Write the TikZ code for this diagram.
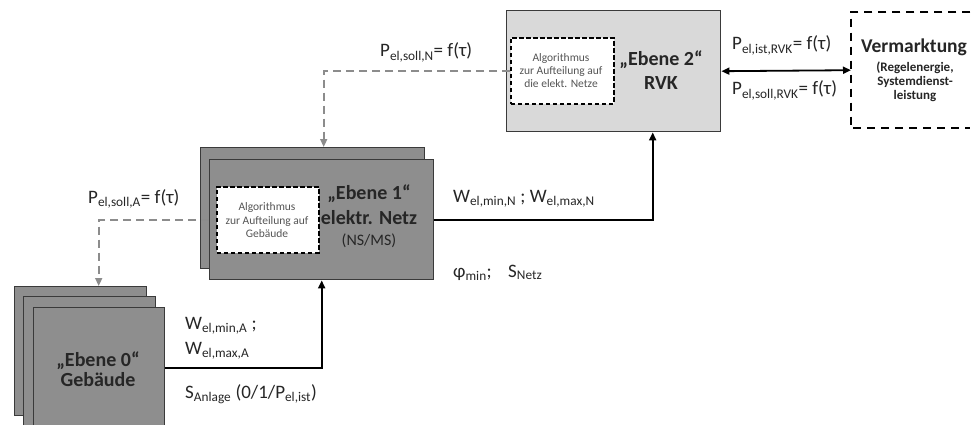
\documentclass[tikz,border=0pt]{standalone}
\usepackage{fontspec}
\setmainfont{Carlito}
\usetikzlibrary{arrows.meta}
\definecolor{boxgray}{HTML}{8E8E8E}
\definecolor{lightbox}{HTML}{D9D9D9}
\definecolor{edgegray}{HTML}{3A3A3A}
\definecolor{dashgray}{HTML}{8C8C8C}
\definecolor{txt}{HTML}{262626}
\definecolor{smalltxt}{HTML}{555555}
\newcommand\sbs[1]{\textsubscript{#1}}
\tikzset{
  levelbox/.style={draw=edgegray, line width=1.4pt, fill=boxgray, anchor=north west, inner sep=0pt},
  rvkbox/.style={draw=edgegray, line width=1.4pt, fill=lightbox, anchor=north west, inner sep=0pt},
  algbox/.style={draw=black, line width=1.8pt, fill=white, dash pattern=on 4.5pt off 2.5pt, anchor=north west, inner sep=0pt},
  vermbox/.style={anchor=north west, inner sep=0pt},
  vermline/.style={draw=black, line width=1.8pt, dash pattern=on 8pt off 6pt},
  lbl/.style={anchor=base west, inner sep=0pt, font=\fontsize{19}{22}\selectfont, text=txt},
  big/.style={anchor=base, inner sep=0pt, font=\fontsize{20}{24}\selectfont\bfseries, text=txt},
  small/.style={anchor=base, inner sep=0pt, font=\fontsize{11.5}{13}\selectfont, text=smalltxt},
  conn/.style={draw=black, line width=1.8pt, -{Triangle[length=8pt,width=7pt]}},
  biconn/.style={draw=black, line width=1.8pt, {Triangle[length=8pt,width=7pt]}-{Triangle[length=8pt,width=7pt]}},
  dconn/.style={draw=dashgray, line width=1.6pt, dash pattern=on 8pt off 5pt, -{Triangle[length=8pt,width=7pt]}}
}
\begin{document}
\begin{tikzpicture}[x=1pt,y=-1pt]
\useasboundingbox (0,0) rectangle (971,425);
\fill[white] (0,0) rectangle (971,425);

% Ebene 0 stack (bottom part cut off by the picture edge)
\begin{scope}
\clip (0,0) rectangle (971,425);
\node[levelbox, minimum width=132pt, minimum height=129pt] (e0a) at (14,286) {};
\node[levelbox, minimum width=132pt, minimum height=129pt] (e0b) at (23,296) {};
\node[levelbox, minimum width=131pt, minimum height=121pt] (e0c) at (33,307) {};
\end{scope}
\node[big] (e0t1) at (98,366) {„Ebene 0“};
\node[big] (e0t2) at (98,386) {Gebäude};

% Ebene 1 stack
\node[levelbox, minimum width=224pt, minimum height=121pt] (e1a) at (200,147) {};
\node[levelbox, minimum width=224pt, minimum height=120pt] (e1b) at (209,159) {};
\node[algbox, minimum width=102pt, minimum height=66pt] (alg1) at (216,186) {};
\node[small] (a1t1) at (267,210) {Algorithmus};
\node[small] (a1t2) at (267,224) {zur Aufteilung auf};
\node[small] (a1t3) at (267,237) {Gebäude};
\node[big] (e1t1) at (369,199) {„Ebene 1“};
\node[big] (e1t2) at (369,224) {elektr. Netz};
\node[anchor=base, inner sep=0pt, font=\fontsize{16}{19}\selectfont, text=txt] (e1t3) at (369,245) {(NS/MS)};

% Ebene 2
\node[rvkbox, minimum width=214pt, minimum height=121pt] (rvk) at (506,10) {};
\node[algbox, minimum width=103pt, minimum height=66pt] (alg2) at (510,37) {};
\node[small] (a2t1) at (561,62) {Algorithmus};
\node[small] (a2t2) at (561,75) {zur Aufteilung auf};
\node[small] (a2t3) at (561,88) {die elekt. Netze};
\node[big] (e2t1) at (661,66) {„Ebene 2“};
\node[big] (e2t2) at (661,90) {RVK};

% Vermarktung (right edge lies outside the picture)
\node[vermbox, minimum width=119pt, minimum height=116pt] (verm) at (851,12) {};
\draw[vermline] (verm.north east) -- (verm.north west) -- (verm.south west) -- (verm.south east);
\node[anchor=base, inner sep=0pt, font=\fontsize{19.5}{23}\selectfont\bfseries, text=txt] (vt1) at (914,53) {Vermarktung};
\node[anchor=base, inner sep=0pt, font=\fontsize{13}{15}\selectfont\bfseries, text=txt] (vt2) at (915,72) {(Regelenergie,};
\node[anchor=base, inner sep=0pt, font=\fontsize{13}{15}\selectfont\bfseries, text=txt] (vt3) at (915,86) {Systemdienst-};
\node[anchor=base, inner sep=0pt, font=\fontsize{13}{15}\selectfont\bfseries, text=txt] (vt4) at (915,100) {leistung};

% connectors
\draw[conn] (e0c.east) -| (e1b.south);
\draw[conn] (e1b.east) -| ([xshift=39pt]rvk.south);
\draw[dconn] (alg2.west) -| ([xshift=11pt]e1a.north);
\draw[dconn] (e1b.west |- alg1.west) -| ([xshift=18pt]e0a.north);
\draw[biconn] (rvk.east) -- (verm.west);

% labels
\node[lbl] (lA) at (88,203) {P\sbs{el,soll,A}= f(τ)};
\node[lbl] (lN) at (380,57) {P\sbs{el,soll,N}= f(τ)};
\node[lbl] (lR1) at (732,50) {P\sbs{el,ist,RVK}= f(τ)};
\node[lbl] (lR2) at (732,95) {P\sbs{el,soll,RVK}= f(τ)};
\node[lbl] (lW1) at (185,329) {W\sbs{el,min,A} ;};
\node[lbl] (lW2) at (185,354) {W\sbs{el,max,A}};
\node[lbl] (lS) at (185,398) {S\sbs{Anlage} (0/1/P\sbs{el,ist})};
\node[lbl] (lWN) at (453,202) {W\sbs{el,min,N} ; W\sbs{el,max,N}};
\node[lbl] (lphi) at (453,277) {φ\sbs{min};};
\node[lbl] (lSN) at (508,277) {S\sbs{Netz}};
\end{tikzpicture}
\end{document}
